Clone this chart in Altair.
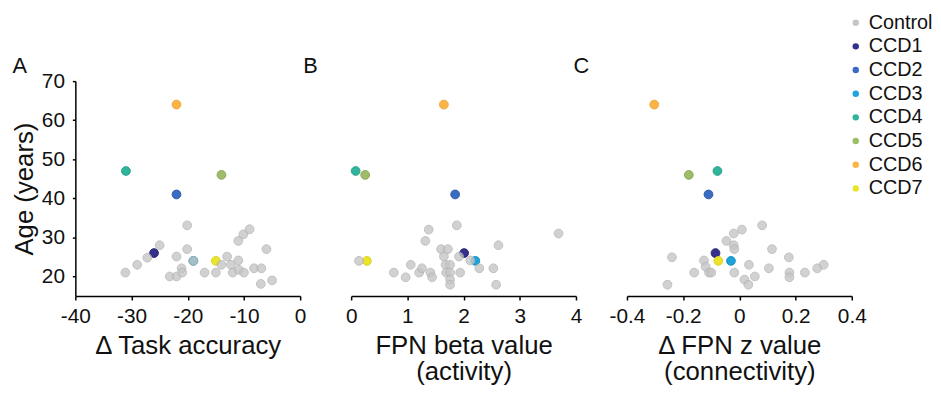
import altair as alt
import pandas as pd

# ---------------- data ----------------
groups = ["Control", "CCD1", "CCD2", "CCD3", "CCD4", "CCD5", "CCD6", "CCD7"]
group_colors = ["#c6c6c6", "#35308c", "#3b6cc4", "#1ea4dc", "#2fb59c", "#9dbd68", "#fbb445", "#ebe42a"]
group_strokes = ["#b2b2b2", "#2a2670", "#2f5aa8", "#1a8fc0", "#27a088", "#8aa85a", "#f0a63a", "#d9d21f"]
panel_letters = ["A", "B", "C"]

ccd_names = ["CCD1", "CCD2", "CCD3", "CCD4", "CCD5", "CCD6", "CCD7"]
ccd_age = [26, 41, 24, 47, 46, 64, 24]
ccd_task = [-26, -22, -19, -31, -14, -22, -15]
ccd_beta = [2.01, 1.85, 2.21, 0.08, 0.25, 1.65, 0.28]
ccd_z = [-0.085, -0.11, -0.03, -0.078, -0.18, -0.303, -0.075]

ctrl_task_x = [-31.1, -29.0, -27.2, -25.0, -23.2, -22.0, -22.0, -21.1, -21.0, -20.1, -20.1, -17.0,
               -15.0, -14.0, -13.0, -12.3, -12.0, -11.0, -11.0, -10.1, -9.0, -10.9, -10.0, -8.2,
               -6.9, -6.0, -7.0, -5.0, -19.0]
ctrl_task_age = [21.0, 23.0, 24.8, 28.0, 20.0, 20.0, 25.1, 22.1, 21.0, 33.1, 27.0, 21.0,
                 21.0, 23.0, 25.1, 23.0, 21.0, 24.1, 29.1, 30.8, 32.1, 21.7, 21.0, 22.1,
                 22.1, 27.0, 18.1, 19.0, 24.0]

ctrl_beta_x = [0.14, 0.76, 0.97, 1.06, 1.21, 1.26, 1.41, 1.44, 1.32, 1.38, 1.60, 1.72, 1.65, 1.68,
               1.69, 1.76, 1.76, 1.76, 1.76, 1.88, 1.92, 1.94, 2.12, 2.28, 2.53, 2.58, 2.62, 3.69]
ctrl_beta_age = [24.0, 21.0, 19.8, 23.0, 21.0, 22.1, 21.0, 19.8, 29.1, 32.0, 27.0, 27.0, 25.1, 23.0,
                 21.0, 23.0, 21.0, 19.2, 17.9, 33.1, 25.1, 21.0, 24.1, 22.1, 22.1, 17.9, 28.0, 31.0]

ctrl_z_x = [-0.256, -0.24, -0.161, -0.126, -0.12, -0.108, -0.10, -0.046, -0.02, -0.02, -0.018, 0.009,
            -0.018, 0.018, 0.032, 0.034, 0.055, 0.081, 0.105, 0.116, 0.176, 0.178, 0.178, 0.233,
            0.277, 0.30]
ctrl_z_age = [17.9, 24.9, 21.0, 24.1, 22.5, 21.0, 21.0, 29.1, 31.0, 28.0, 27.0, 32.0,
              21.0, 19.2, 17.9, 23.0, 20.0, 33.1, 22.1, 27.0, 24.9, 21.0, 19.8, 21.0,
              22.1, 23.0]


def panel_df(ccd_x, ctrl_x, ctrl_age):
    rows = []
    for g, xv, yv in zip(ccd_names, ccd_x, ccd_age):
        rows.append({"group": g, "x": xv, "age": yv, "op": 1.0})
    for xv, yv in zip(ctrl_x, ctrl_age):
        rows.append({"group": "Control", "x": xv, "age": yv, "op": 0.8})
    return pd.DataFrame(rows)


df_a = panel_df(ccd_task, ctrl_task_x, ctrl_task_age)
df_b = panel_df(ccd_beta, ctrl_beta_x, ctrl_beta_age)
df_c = panel_df(ccd_z, ctrl_z_x, ctrl_z_age)

FONT = "Liberation Sans"
W, H = 227, 217
tick_fmt = "replace(format(datum.value, '~g'), '\u2212', '-')"

y_scale = alt.Scale(domain=[15, 70], nice=False, zero=False)


def color_enc(show_legend):
    if show_legend:
        leg = alt.Legend(title=None, orient="none", legendX=221, legendY=-69,
                         symbolType="circle", symbolSize=42, symbolStrokeWidth=0,
                         labelFontSize=20, labelFont=FONT, labelColor="#111",
                         labelOffset=3, rowPadding=3.9, padding=0, symbolOpacity=1)
        return alt.Color("group:N", scale=alt.Scale(domain=groups, range=group_colors), legend=leg)
    return alt.Color("group:N", scale=alt.Scale(domain=groups, range=group_colors), legend=None)


def panel(df, letter, letter_dx, xdom, xvals, xtitle, show_y, show_legend):
    if show_y:
        yax = alt.Axis(values=[20, 30, 40, 50, 60, 70], title="Age (years)", grid=False,
                       tickSize=3, labelPadding=8, titlePadding=4, labelFontSize=21,
                       titleFontSize=26, titleFont=FONT, labelFont=FONT,
                       titleFontWeight="normal", titleColor="#111", labelColor="#111",
                       domainColor="#000", tickColor="#000", domainWidth=1.5, tickWidth=1.5)
    else:
        yax = None
    pts = alt.Chart(df).mark_circle(size=78, strokeWidth=1).encode(
        x=alt.X("x:Q", scale=alt.Scale(domain=xdom, nice=False, zero=False),
                axis=alt.Axis(values=xvals, title=xtitle, grid=False, tickSize=4,
                              labelPadding=6, titlePadding=6, labelFontSize=21,
                              titleFontSize=26, titleLineHeight=26, labelExpr=tick_fmt,
                              titleFont=FONT, labelFont=FONT, titleFontWeight="normal",
                              titleColor="#111", labelColor="#111",
                              domainColor="#000", tickColor="#000", labelFlush=False,
                              domainWidth=1.5, tickWidth=1.5)),
        y=alt.Y("age:Q", scale=y_scale, axis=yax),
        color=color_enc(show_legend),
        stroke=alt.Stroke("group:N", scale=alt.Scale(domain=groups, range=group_strokes),
                          legend=None),
        opacity=alt.Opacity("op:Q", scale=None),
    )
    lab = alt.Chart(pd.DataFrame({"t": [letter]})).mark_text(
        fontSize=22, font=FONT, color="#111", align="center", baseline="middle"
    ).encode(text="t:N", x=alt.value(letter_dx), y=alt.value(-15))
    return alt.layer(pts, lab).properties(width=W, height=H)


pa = panel(df_a, panel_letters[0], -56, [-40, 0], [-40, -30, -20, -10, 0],
           "\u0394 Task accuracy", True, False)
pb = panel(df_b, panel_letters[1], -41, [0, 4], [0, 1, 2, 3, 4],
           ["FPN beta value", "(activity)"], False, False)
pc = panel(df_c, panel_letters[2], -46, [-0.4, 0.4], [-0.4, -0.2, 0, 0.2, 0.4],
           ["\u0394 FPN z value", "(connectivity)"], False, True)

chart = alt.hconcat(pa, pb, pc, spacing=51.5, bounds="flush").resolve_legend(
    color="independent", stroke="independent"
).configure_view(stroke=None).properties(
    padding={"left": 3, "top": 3, "right": 0, "bottom": 0}
)

chart.save("out.html", embed_options={"renderer": "svg", "actions": False})
